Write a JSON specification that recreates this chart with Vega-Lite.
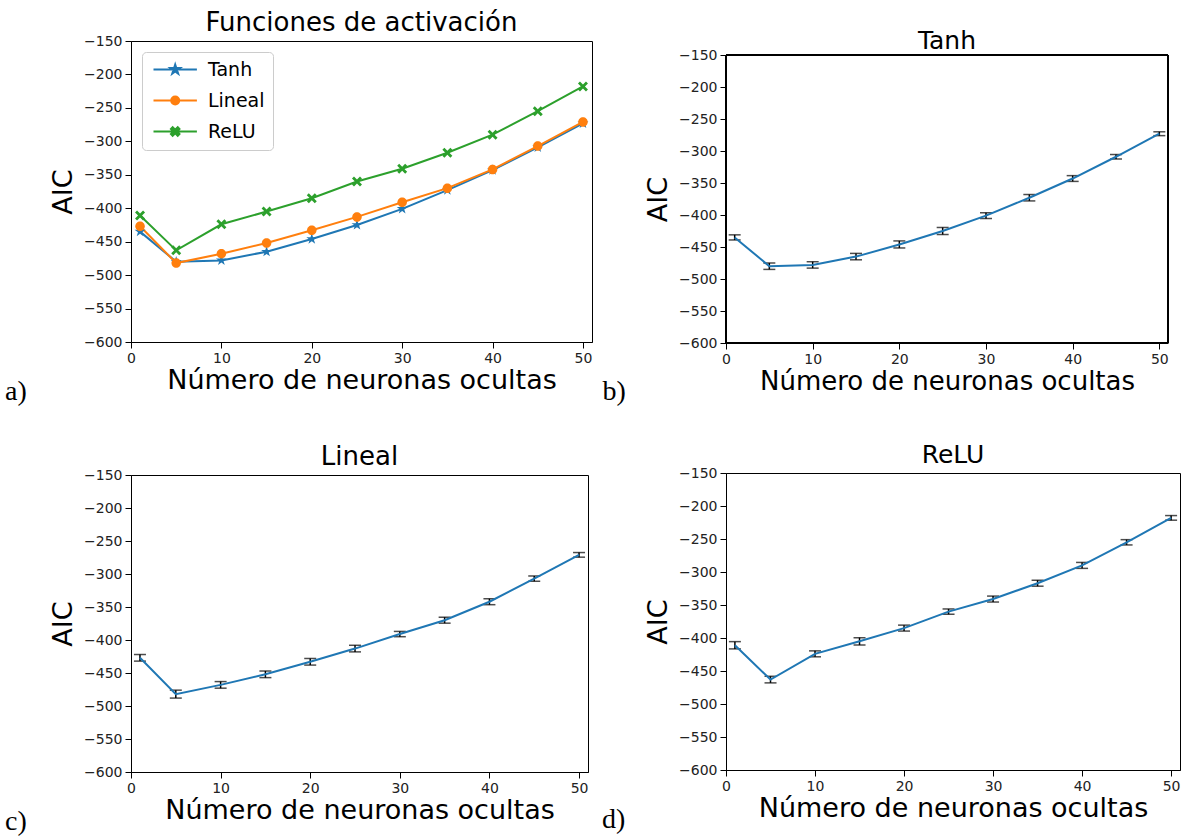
{
  "$schema": "https://vega.github.io/schema/vega-lite/v6.json",
  "background": "white",
  "padding": {"left": 5, "top": 9, "right": 0, "bottom": 0},
  "datasets": {
    "aic": [
      {"fn": "Tanh", "n": 1, "aic": -435, "lo": -439, "hi": -431},
      {"fn": "Tanh", "n": 5, "aic": -480, "lo": -485, "hi": -475},
      {"fn": "Tanh", "n": 10, "aic": -478, "lo": -483, "hi": -473},
      {"fn": "Tanh", "n": 15, "aic": -465, "lo": -470, "hi": -460},
      {"fn": "Tanh", "n": 20, "aic": -446, "lo": -451.5, "hi": -440.5},
      {"fn": "Tanh", "n": 25, "aic": -425, "lo": -430.5, "hi": -419.5},
      {"fn": "Tanh", "n": 30, "aic": -401, "lo": -405.5, "hi": -396.5},
      {"fn": "Tanh", "n": 35, "aic": -373, "lo": -378, "hi": -368},
      {"fn": "Tanh", "n": 40, "aic": -343, "lo": -347.5, "hi": -338.5},
      {"fn": "Tanh", "n": 45, "aic": -309, "lo": -312.5, "hi": -305.5},
      {"fn": "Tanh", "n": 50, "aic": -273, "lo": -276, "hi": -270},
      {"fn": "Lineal", "n": 1, "aic": -427, "lo": -432, "hi": -422},
      {"fn": "Lineal", "n": 5, "aic": -482, "lo": -488, "hi": -476},
      {"fn": "Lineal", "n": 10, "aic": -468, "lo": -473, "hi": -463},
      {"fn": "Lineal", "n": 15, "aic": -452, "lo": -457, "hi": -447},
      {"fn": "Lineal", "n": 20, "aic": -433, "lo": -438, "hi": -428},
      {"fn": "Lineal", "n": 25, "aic": -413, "lo": -418, "hi": -408},
      {"fn": "Lineal", "n": 30, "aic": -391, "lo": -395, "hi": -387},
      {"fn": "Lineal", "n": 35, "aic": -370, "lo": -374.5, "hi": -365.5},
      {"fn": "Lineal", "n": 40, "aic": -342, "lo": -346.5, "hi": -337.5},
      {"fn": "Lineal", "n": 45, "aic": -307, "lo": -311, "hi": -303},
      {"fn": "Lineal", "n": 50, "aic": -271, "lo": -274.5, "hi": -267.5},
      {"fn": "ReLU", "n": 1, "aic": -411, "lo": -416.5, "hi": -405.5},
      {"fn": "ReLU", "n": 5, "aic": -463, "lo": -468, "hi": -458},
      {"fn": "ReLU", "n": 10, "aic": -424, "lo": -428.5, "hi": -419.5},
      {"fn": "ReLU", "n": 15, "aic": -405, "lo": -410.5, "hi": -399.5},
      {"fn": "ReLU", "n": 20, "aic": -385, "lo": -389.5, "hi": -380.5},
      {"fn": "ReLU", "n": 25, "aic": -360, "lo": -364, "hi": -356},
      {"fn": "ReLU", "n": 30, "aic": -341, "lo": -345.5, "hi": -336.5},
      {"fn": "ReLU", "n": 35, "aic": -317, "lo": -321.5, "hi": -312.5},
      {"fn": "ReLU", "n": 40, "aic": -290, "lo": -294.5, "hi": -285.5},
      {"fn": "ReLU", "n": 45, "aic": -255, "lo": -259, "hi": -251},
      {"fn": "ReLU", "n": 50, "aic": -218, "lo": -221.5, "hi": -214.5}
    ]
  },
  "config": {
    "view": {"stroke": "#000", "strokeWidth": 1},
    "axis": {
      "domainColor": "#000", "domainWidth": 1, "tickColor": "#000", "tickWidth": 1, "tickSize": 6,
      "labelFont": "DejaVu Sans", "labelFontSize": 14, "labelColor": "#222", "labelPadding": 3,
      "labelFlush": false, "labelOverlap": false,
      "titleFont": "DejaVu Sans", "titleFontWeight": "normal", "titleColor": "#000", "titleFontSize": 27,
      "grid": false
    },
    "axisX": {"titlePadding": 2},
    "axisY": {"titlePadding": 6},
    "title": {"font": "DejaVu Sans", "fontWeight": "normal", "color": "#000", "anchor": "middle"}
  },
  "spacing": 9,
  "hconcat": [
    {
      "spacing": 37,
      "vconcat": [
        {
          "title": {"text": "a)", "orient": "bottom", "anchor": "start", "font": "Liberation Serif", "fontSize": 28, "fontWeight": "normal", "offset": -16, "dx": -44},
          "vconcat": [
            {
              "width": 461, "height": 301,
              "title": {"text": "Funciones de activación", "fontSize": 26, "offset": -2},
              "data": {"name": "aic"},
              "encoding": {
                "x": {"field": "n", "type": "quantitative", "scale": {"domain": [0, 51], "nice": false},
                      "axis": {"values": [0, 10, 20, 30, 40, 50], "title": "Número de neuronas ocultas"}},
                "y": {"field": "aic", "type": "quantitative", "scale": {"domain": [-600, -150], "nice": false},
                      "axis": {"values": [-600, -550, -500, -450, -400, -350, -300, -250, -200, -150], "title": "AIC"}},
                "color": {"field": "fn", "type": "nominal",
                  "scale": {"domain": ["Tanh", "Lineal", "ReLU"], "range": ["#1f77b4", "#ff7f0e", "#2ca02c"]},
                  "legend": {
                    "title": null, "orient": "top-left", "offset": 11, "padding": 8,
                    "strokeColor": "#cccccc", "fillColor": "#ffffff", "cornerRadius": 4,
                    "labelFont": "DejaVu Sans", "labelFontSize": 19, "labelColor": "#000",
                    "symbolSize": 100, "labelOffset": 39, "rowPadding": 11,
                    "encode": {"symbols": {"update": {
                      "shape": {"signal": "datum.value === 'Tanh' ? 'M-1.2,0L7.48,0M3.14,-1L3.3645,-0.309L4.091,-0.309L3.503,0.118L3.728,0.809L3.14,0.382L2.552,0.809L2.777,0.118L2.189,-0.309L2.9155,-0.309Z' : datum.value === 'Lineal' ? 'M-1.2,0L7.48,0M3.94,0A0.8,0.8,0,1,1,2.34,0A0.8,0.8,0,1,1,3.94,0Z' : 'M-1.2,0L7.48,0M2.29,-0.51L2.63,-0.85L3.14,-0.34L3.65,-0.85L3.99,-0.51L3.48,0L3.99,0.51L3.65,0.85L3.14,0.34L2.63,0.85L2.29,0.51L2.8,0Z'"},
                      "fill": {"signal": "datum.value === 'Tanh' ? '#1f77b4' : datum.value === 'Lineal' ? '#ff7f0e' : '#2ca02c'"},
                      "stroke": {"signal": "datum.value === 'Tanh' ? '#1f77b4' : datum.value === 'Lineal' ? '#ff7f0e' : '#2ca02c'"},
                      "strokeWidth": {"value": 2},
                      "size": {"value": 100},
                      "opacity": {"value": 1},
                      "fillOpacity": {"value": 1},
                      "strokeOpacity": {"value": 1}
                    }}}
                  }}
              },
              "layer": [
                {"mark": {"type": "line", "strokeWidth": 2}},
                {"transform": [{"filter": "datum.fn === 'Tanh'"}],
                 "mark": {"type": "point", "filled": true, "opacity": 1, "size": 100,
                          "shape": "M0,-1.15L0.258,-0.355L1.094,-0.355L0.418,0.136L0.676,0.93L0,0.439L-0.676,0.93L-0.418,0.136L-1.094,-0.355L-0.258,-0.355Z"}},
                {"transform": [{"filter": "datum.fn === 'Lineal'"}],
                 "mark": {"type": "point", "filled": true, "opacity": 1, "size": 100,
                          "shape": "M0.95,0A0.95,0.95,0,1,1,-0.95,0A0.95,0.95,0,1,1,0.95,0Z"}},
                {"transform": [{"filter": "datum.fn === 'ReLU'"}],
                 "mark": {"type": "point", "filled": true, "opacity": 1, "size": 100,
                          "shape": "M-1,-0.6L-0.6,-1L0,-0.4L0.6,-1L1,-0.6L0.4,0L1,0.6L0.6,1L0,0.4L-0.6,1L-1,0.6L-0.4,0Z"}}
              ]
            }
          ]
        },
        {
          "title": {"text": "c)", "orient": "bottom", "anchor": "start", "font": "Liberation Serif", "fontSize": 28, "fontWeight": "normal", "offset": -16, "dx": -44},
          "vconcat": [
            {
              "width": 457, "height": 297,
              "title": {"text": "Lineal", "fontSize": 26, "offset": -2},
              "data": {"name": "aic"},
              "transform": [{"filter": "datum.fn === 'Lineal'"}],
              "encoding": {
                "x": {"field": "n", "type": "quantitative", "scale": {"domain": [0, 51], "nice": false},
                      "axis": {"values": [0, 10, 20, 30, 40, 50], "title": "Número de neuronas ocultas"}}
              },
              "layer": [
                {"mark": {"type": "errorbar", "ticks": {"size": 12}, "color": "#000", "thickness": 1.5},
                 "encoding": {"y": {"field": "lo", "type": "quantitative", "scale": {"domain": [-600, -150], "nice": false},
                      "axis": {"values": [-600, -550, -500, -450, -400, -350, -300, -250, -200, -150], "title": "AIC"}},
                      "y2": {"field": "hi"}}},
                {"mark": {"type": "line", "color": "#1f77b4", "strokeWidth": 2},
                 "encoding": {"y": {"field": "aic", "type": "quantitative", "scale": {"domain": [-600, -150], "nice": false},
                      "axis": {"values": [-600, -550, -500, -450, -400, -350, -300, -250, -200, -150], "title": "AIC"}}}}
              ]
            }
          ]
        }
      ]
    },
    {
      "spacing": 36,
      "vconcat": [
        {
          "title": {"text": "b)", "orient": "bottom", "anchor": "start", "font": "Liberation Serif", "fontSize": 28, "fontWeight": "normal", "offset": -16, "dx": -42},
          "vconcat": [
            {
              "width": 442, "height": 302,
              "view": {"stroke": null},
              "title": {"text": "Tanh", "fontSize": 25, "offset": -13},
              "data": {"name": "aic"},
              "transform": [{"filter": "datum.fn === 'Tanh'"}],
              "encoding": {
                "x": {"field": "n", "type": "quantitative", "scale": {"domain": [0, 51], "nice": false},
                      "axis": {"values": [0, 10, 20, 30, 40, 50], "title": "Número de neuronas ocultas", "titleFontSize": 26}}
              },
              "layer": [
                {"mark": {"type": "rect", "fillOpacity": 0, "stroke": "#000", "strokeWidth": 1},
                 "encoding": {
                   "x": {"datum": 0, "type": "quantitative", "scale": {"domain": [0, 51], "nice": false},
                         "axis": {"values": [0, 10, 20, 30, 40, 50], "title": "Número de neuronas ocultas", "titleFontSize": 26}},
                   "x2": {"datum": 51},
                   "y": {"datum": -600, "type": "quantitative", "scale": {"domain": [-600, -150], "nice": false, "range": [302, 14]},
                         "axis": {"values": [-600, -550, -500, -450, -400, -350, -300, -250, -200, -150], "title": "AIC"}},
                   "y2": {"datum": -150}}},
                {"mark": {"type": "errorbar", "ticks": {"size": 12}, "color": "#000", "thickness": 1.5},
                 "encoding": {"y": {"field": "lo", "type": "quantitative", "scale": {"domain": [-600, -150], "nice": false, "range": [302, 14]},
                      "axis": {"values": [-600, -550, -500, -450, -400, -350, -300, -250, -200, -150], "title": "AIC"}},
                      "y2": {"field": "hi"}}},
                {"mark": {"type": "line", "color": "#1f77b4", "strokeWidth": 2},
                 "encoding": {"y": {"field": "aic", "type": "quantitative", "scale": {"domain": [-600, -150], "nice": false, "range": [302, 14]},
                      "axis": {"values": [-600, -550, -500, -450, -400, -350, -300, -250, -200, -150], "title": "AIC"}}}}
              ]
            }
          ]
        },
        {
          "title": {"text": "d)", "orient": "bottom", "anchor": "start", "font": "Liberation Serif", "fontSize": 28, "fontWeight": "normal", "offset": -16, "dx": -42},
          "vconcat": [
            {
              "width": 454, "height": 297,
              "title": {"text": "ReLU", "fontSize": 25, "offset": -2},
              "data": {"name": "aic"},
              "transform": [{"filter": "datum.fn === 'ReLU'"}],
              "encoding": {
                "x": {"field": "n", "type": "quantitative", "scale": {"domain": [0, 51], "nice": false},
                      "axis": {"values": [0, 10, 20, 30, 40, 50], "title": "Número de neuronas ocultas"}}
              },
              "layer": [
                {"mark": {"type": "errorbar", "ticks": {"size": 12}, "color": "#000", "thickness": 1.5},
                 "encoding": {"y": {"field": "lo", "type": "quantitative", "scale": {"domain": [-600, -150], "nice": false},
                      "axis": {"values": [-600, -550, -500, -450, -400, -350, -300, -250, -200, -150], "title": "AIC"}},
                      "y2": {"field": "hi"}}},
                {"mark": {"type": "line", "color": "#1f77b4", "strokeWidth": 2},
                 "encoding": {"y": {"field": "aic", "type": "quantitative", "scale": {"domain": [-600, -150], "nice": false},
                      "axis": {"values": [-600, -550, -500, -450, -400, -350, -300, -250, -200, -150], "title": "AIC"}}}}
              ]
            }
          ]
        }
      ]
    }
  ]
}
